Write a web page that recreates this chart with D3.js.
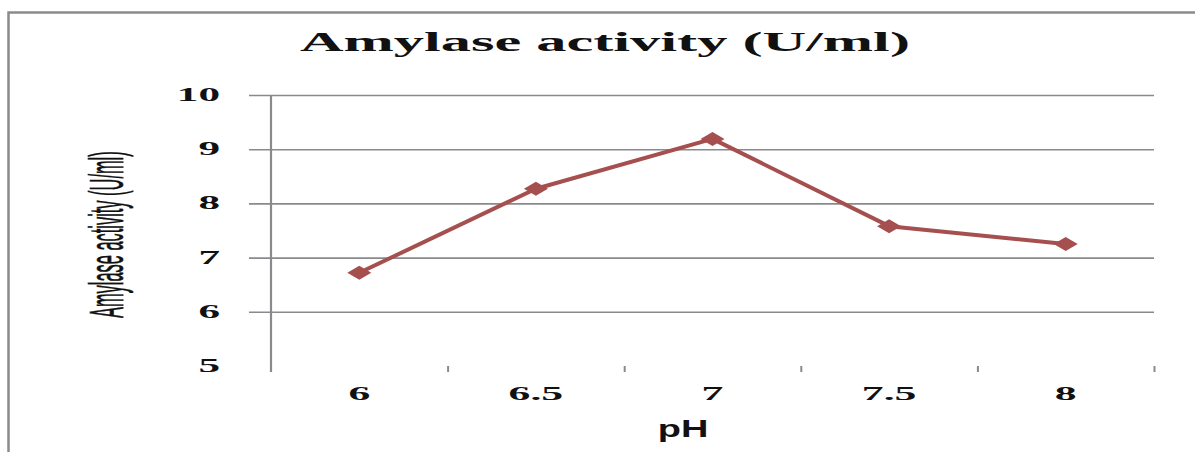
<!DOCTYPE html>
<html>
<head>
<meta charset="utf-8">
<script src="https://cdn.jsdelivr.net/npm/d3@7"></script>
<style>
  html, body { margin: 0; padding: 0; background: #fff; }
  svg { display: block; }
</style>
</head>
<body>
<svg id="chart" width="1195" height="452"></svg>
<script>
// pH categories and measured amylase activity (U/ml)
const phLabels = ["6", "6.5", "7", "7.5", "8"];
const activity = [6.72, 8.27, 9.19, 7.58, 7.25];
const yTicks = [5, 6, 7, 8, 9, 10];
const gridTicks = [6, 7, 8, 9, 10];

const titleText = "Amylase activity (U/ml)";
const yTitleText = "Amylase activity (U/ml)";
const xTitleText = "pH";

const svg = d3.select("#chart");
const gray = "#8a8a8e";
const lineColor = "#a64f4f";

const plot = { left: 271, right: 1154, top: 95, bottom: 366 };

const x = d3.scaleBand().domain(phLabels).range([plot.left, plot.right]).padding(0);
const xEdges = d3.scaleLinear().domain([0, phLabels.length]).range([plot.left, plot.right]);
const y = d3.scaleLinear().domain([5, 10]).range([plot.bottom, plot.top]);
const cx = d => x(d) + x.bandwidth() / 2;

// outer frame (top and left edges)
svg.append("path")
  .attr("d", `M8.5,452 L8.5,12.5 L1195,12.5`)
  .attr("fill", "none").attr("stroke", gray).attr("stroke-width", 2.5);

// horizontal gridlines, extending left past the axis as tick marks
const grid = svg.append("g")
  .attr("transform", `translate(${plot.left - 22},0)`)
  .call(d3.axisRight(y).tickValues(gridTicks).tickSize(plot.right - plot.left + 22).tickFormat(""));
grid.select(".domain").remove();
grid.selectAll(".tick line").attr("stroke", gray).attr("stroke-width", 1.6);

// vertical axis line
svg.append("line")
  .attr("x1", plot.left).attr("x2", plot.left)
  .attr("y1", y(10)).attr("y2", y(5) + 6)
  .attr("stroke", gray).attr("stroke-width", 2.2);

// category separator ticks below the plot
const xAxis = svg.append("g")
  .attr("transform", `translate(0,${plot.bottom})`)
  .call(d3.axisBottom(xEdges).tickValues(d3.range(1, phLabels.length + 1)).tickSize(6).tickFormat(""));
xAxis.select(".domain").remove();
xAxis.selectAll(".tick line").attr("stroke", gray).attr("stroke-width", 2);

// y tick labels (wide bold serif)
svg.append("g").selectAll("text")
  .data(yTicks).join("text")
  .attr("transform", d => `translate(220,${y(d) + 6}) scale(2.4,1)`)
  .attr("text-anchor", "end")
  .attr("font-family", "Liberation Serif, serif")
  .attr("font-weight", "bold")
  .attr("font-size", 18)
  .attr("fill", "#111")
  .text(d => d);

// x tick labels
svg.append("g").selectAll("text")
  .data(phLabels).join("text")
  .attr("transform", d => `translate(${cx(d)},${plot.bottom + 34}) scale(2.3,1)`)
  .attr("text-anchor", "middle")
  .attr("font-family", "Liberation Serif, serif")
  .attr("font-weight", "bold")
  .attr("font-size", 19)
  .attr("fill", "#111")
  .text(d => d);

// chart title
svg.append("text")
  .attr("x", 300).attr("y", 51)
  .attr("textLength", 610).attr("lengthAdjust", "spacingAndGlyphs")
  .attr("font-family", "Liberation Serif, serif")
  .attr("font-weight", "bold")
  .attr("font-size", 28)
  .attr("fill", "#111")
  .text(titleText);

// x axis title
svg.append("text")
  .attr("transform", `translate(683,437) scale(1.65,1)`)
  .attr("text-anchor", "middle")
  .attr("font-family", "Liberation Sans, sans-serif")
  .attr("font-weight", "bold")
  .attr("font-size", 23)
  .attr("fill", "#111")
  .text(xTitleText);

// y axis title (condensed, rotated)
svg.append("text")
  .attr("transform", `translate(123,318) rotate(-90) scale(0.82,2.4)`)
  .attr("font-family", "Liberation Sans, sans-serif")
  .attr("font-size", 20)
  .attr("fill", "#111")
  .attr("stroke", "#111")
  .attr("stroke-width", 0.25)
  .text(yTitleText);

// data line
const line = d3.line().x((d, i) => cx(phLabels[i])).y(d => y(d));
svg.append("path")
  .datum(activity)
  .attr("d", line)
  .attr("fill", "none")
  .attr("stroke", lineColor)
  .attr("stroke-width", 4)
  .attr("stroke-linejoin", "round");

// diamond markers
const diamond = (px, py, w, h) => {
  const p = d3.path();
  p.moveTo(px - w / 2, py);
  p.lineTo(px, py - h / 2);
  p.lineTo(px + w / 2, py);
  p.lineTo(px, py + h / 2);
  p.closePath();
  return p.toString();
};
svg.append("g").selectAll("path")
  .data(activity).join("path")
  .attr("d", (d, i) => diamond(cx(phLabels[i]), y(d), 24, 14))
  .attr("fill", lineColor);
</script>
</body>
</html>
